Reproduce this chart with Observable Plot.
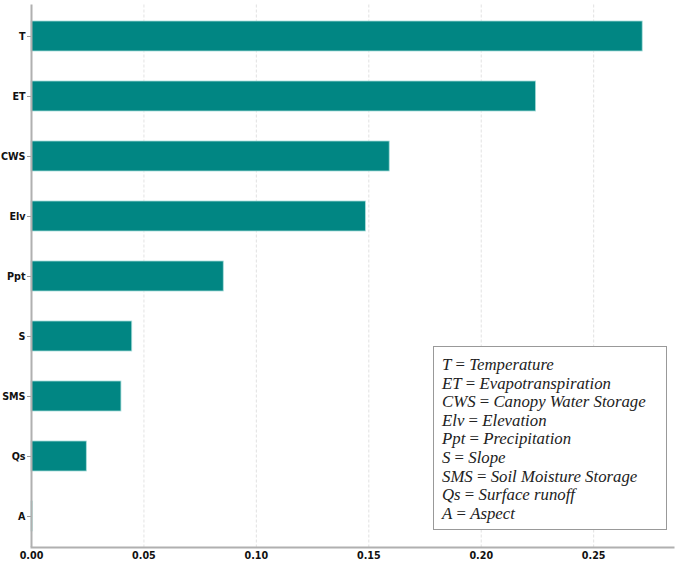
<!DOCTYPE html>
<html>
<head>
<meta charset="utf-8">
<script src="https://cdn.jsdelivr.net/npm/d3@7"></script>
<script src="https://cdn.jsdelivr.net/npm/@observablehq/plot@0.6"></script>
<style>
  body { margin: 0; background: #fff; }
  #wrap { position: relative; width: 680px; height: 564px; }
  #legend {
    position: absolute; left: 433px; top: 346px; width: 234px; height: 184px;
    box-sizing: border-box; border: 1px solid #999; background: #fff;
    padding: 9px 0 0 8px;
    font-family: "Liberation Serif", serif; font-size: 16.8px;
    color: #222; line-height: 18.6px; white-space: nowrap;
  }
  #legend i { font-style: italic; }
</style>
</head>
<body>
<div id="wrap"></div>
<script>
const features = ["T", "ET", "CWS", "Elv", "Ppt", "S", "SMS", "Qs", "A"];
const importance = [0.2718, 0.2244, 0.1593, 0.1487, 0.0855, 0.0448, 0.0400, 0.0246, 0.0005];
const descriptions = ["Temperature", "Evapotranspiration", "Canopy Water Storage", "Elevation",
  "Precipitation", "Slope", "Soil Moisture Storage", "Surface runoff", "Aspect"];
const xTicks = [0, 0.05, 0.10, 0.15, 0.20, 0.25];

const data = features.map((f, i) => ({feature: f, value: importance[i]}));

const chart = Plot.plot({
  width: 680,
  height: 564,
  marginLeft: 31,
  marginRight: 7,
  marginTop: 4.5,
  marginBottom: 17,
  style: {fontFamily: "DejaVu Sans", fontSize: "9.6px", fontWeight: "bold", color: "#111"},
  x: {domain: [0, 0.2855], ticks: xTicks, tickFormat: d3.format(".2f")},
  y: {domain: features, paddingInner: 0.5, paddingOuter: 0.25},
  marks: [
    Plot.gridX(xTicks.slice(1), {stroke: "#d6d6d6", strokeOpacity: 1, strokeDasharray: "3,2", strokeWidth: 0.7}),
    Plot.barX(data, {x: "value", y: "feature", fill: "#018683", stroke: "#a8dcd9", strokeWidth: 0.8}),
    Plot.axisX({ticks: xTicks, tickSize: 0, tickPadding: 5, label: null, tickFormat: d3.format(".2f"), fill: "#111"}),
    Plot.axisY({tickSize: 4, tickPadding: 2, label: null, stroke: "#999", fill: "#111"}),
    Plot.frame({anchor: "bottom", stroke: "#b0b0b0", strokeWidth: 2}),
    Plot.ruleX([0], {stroke: "#b0b0b0", strokeWidth: 2})
  ]
});

const wrap = document.getElementById("wrap");
wrap.appendChild(chart);

const legend = document.createElement("div");
legend.id = "legend";
legend.innerHTML = features.map((f, i) =>
  `<div><i>${f}</i> = <i>${descriptions[i]}</i></div>`).join("");
wrap.appendChild(legend);
</script>
</body>
</html>
